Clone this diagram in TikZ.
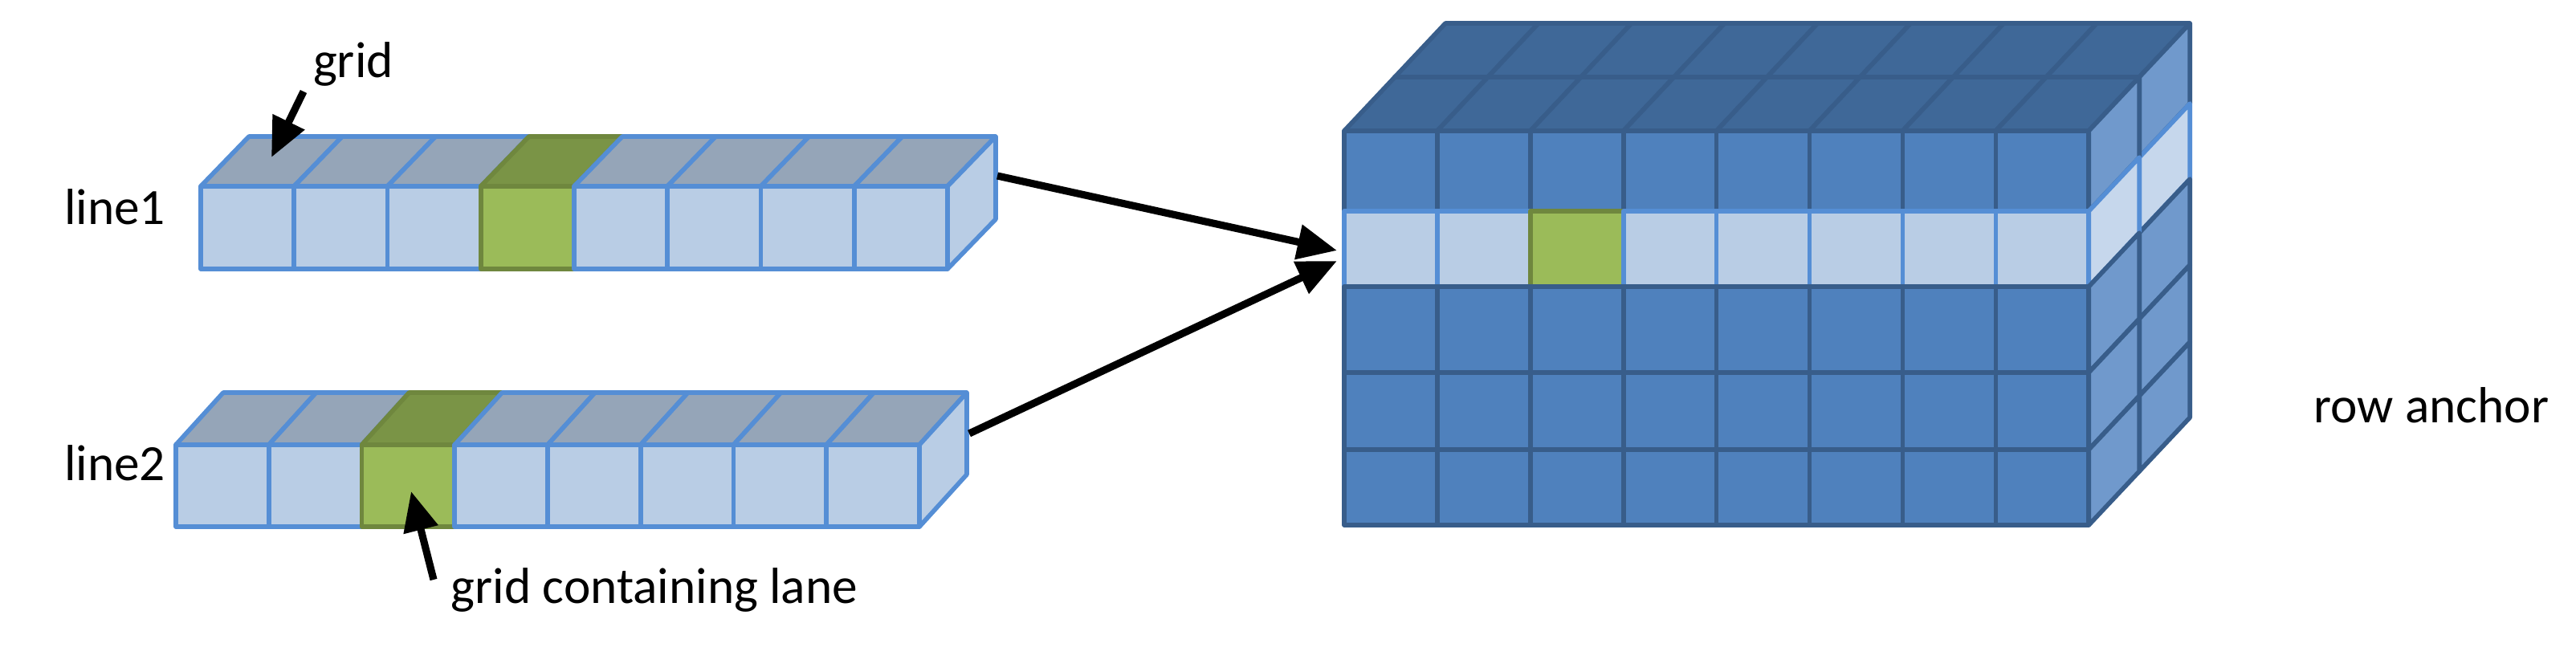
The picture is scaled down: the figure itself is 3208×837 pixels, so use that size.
\documentclass[tikz,border=0pt]{standalone}
\usepackage{fontspec}
\setmainfont{Carlito}
\usetikzlibrary{arrows.meta}
\definecolor{sfront}{HTML}{B9CDE5}
\definecolor{stop}{HTML}{95A5B8}
\definecolor{sline}{HTML}{558ED5}
\definecolor{gfront}{HTML}{9BBB59}
\definecolor{gtop}{HTML}{7A9446}
\definecolor{gline}{HTML}{6F873E}
\definecolor{dfront}{HTML}{4F81BD}
\definecolor{dtop}{HTML}{3F6898}
\definecolor{dside}{HTML}{7099CC}
\definecolor{dline}{HTML}{385D8A}
\definecolor{lside}{HTML}{C6D7EC}
\begin{document}
\begin{tikzpicture}[x=0.01cm,y=-0.01cm,
  sface/.style={fill=sfront,draw=sline,line width=1.6pt,line join=round},
  stopf/.style={fill=stop,draw=sline,line width=1.6pt,line join=round},
  gface/.style={fill=gfront,draw=gline,line width=1.6pt,line join=round},
  gtopf/.style={fill=gtop,draw=gline,line width=1.6pt,line join=round},
  dface/.style={fill=dfront,draw=dline,line width=1.6pt,line join=round},
  dtopf/.style={fill=dtop,draw=dline,line width=1.6pt,line join=round},
  dsidef/.style={fill=dside,draw=dline,line width=1.6pt,line join=round},
  lface/.style={fill=sfront,draw=sline,line width=1.6pt,line join=round},
  lsidef/.style={fill=lside,draw=sline,line width=1.6pt,line join=round},
  lab/.style={font=\fontsize{18}{22}\selectfont,inner sep=0pt},
  arr/.style={-{Triangle[length=14pt,width=12pt]},line width=2.6pt}]
\useasboundingbox (0,0) rectangle (3208,837);
\newcommand\mystrip[7]{%
  \foreach \i in {0,...,7}{%
    \pgfmathsetmacro\xa{#1+\i*#4}\pgfmathsetmacro\xb{#1+(\i+1)*#4}%
    \ifnum\i=#5\def\ff{gface}\def\tf{gtopf}\else\def\ff{sface}\def\tf{stopf}\fi
    \draw[\tf] (\xa,#2) -- (\xa+#6,#2+#7) -- (\xb+#6,#2+#7) -- (\xb,#2) -- cycle;
    \draw[\ff] (\xa,#2) rectangle (\xb,#3);
  }%
  \pgfmathsetmacro\xr{#1+8*#4}%
  \draw[sface] (\xr,#2) -- (\xr+#6,#2+#7) -- (\xr+#6,#3+#7) -- (\xr,#3) -- cycle;
}
\mystrip{250}{232}{335}{116.25}{3}{60}{-62}
\mystrip{219}{554}{656}{115.75}{2}{59}{-65}
\def\rows{{163,263,357,464,560,654}}
\foreach \k in {1,0}{%
  \pgfmathsetmacro\ox{\k*63}\pgfmathsetmacro\oy{-\k*67}%
  \foreach \r in {0,...,4}{%
    \pgfmathsetmacro\ya{\rows[\r]+\oy}\pgfmathsetmacro\yb{\rows[\r+1]+\oy}%
    \foreach \c in {0,...,7}{%
      \pgfmathsetmacro\xa{1674+\c*115.9+\ox}\pgfmathsetmacro\xb{1674+(\c+1)*115.9+\ox}%
      \ifnum\r=0 \draw[dtopf] (\xa,\ya) -- (\xa+63,\ya-67) -- (\xb+63,\ya-67) -- (\xb,\ya) -- cycle;\fi
      \def\ff{dface}\ifnum\r=1 \def\ff{lface}\ifnum\c=2 \ifnum\k=0 \def\ff{gface}\fi\fi\fi
      \draw[\ff] (\xa,\ya) rectangle (\xb,\yb);
      \ifnum\c=7 \def\sf{dsidef}\ifnum\r=1 \def\sf{lsidef}\fi
        \draw[\sf] (\xb,\ya) -- (\xb+63,\ya-67) -- (\xb+63,\yb-67) -- (\xb,\yb) -- cycle;\fi
    }}}
\node[lab] (l1) at (143,258) {line1};
\node[lab] (l2) at (143,577) {line2};
\node[lab] (g) at (440,80) {grid};
\node[lab] (gc) at (815,735) {grid containing lane};
\node[lab] (ra) at (3028,505) {row anchor};
\coordinate (gt) at (338,196);
\coordinate (gct) at (512,612);
\coordinate (s1) at (1242,219);
\coordinate (s2) at (1207,540);
\coordinate (b1) at (1665,312);
\coordinate (b2) at (1665,325);
\draw[arr] (378,114) -- (gt);
\draw[arr] (540,722) -- (gct);
\draw[arr] (s1) -- (b1);
\draw[arr] (s2) -- (b2);
\end{tikzpicture}
\end{document}
